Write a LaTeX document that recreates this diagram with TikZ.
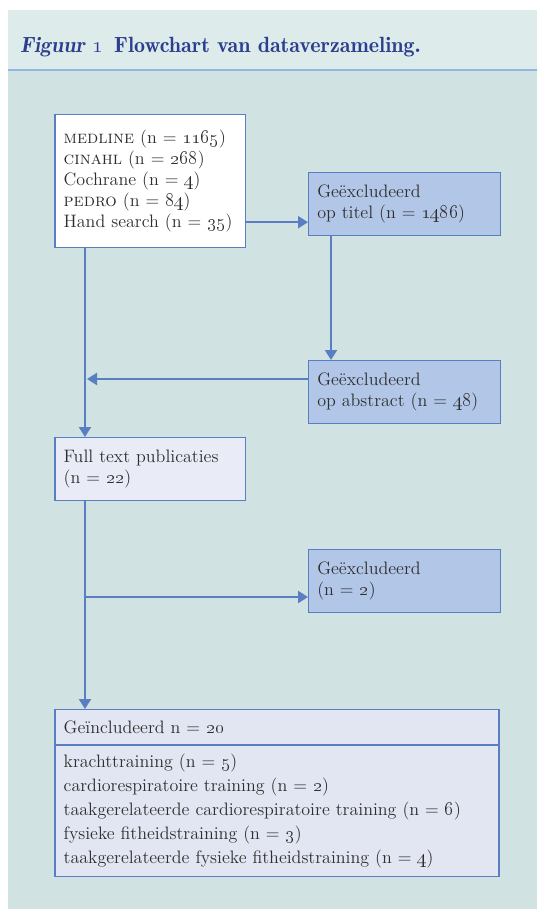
\documentclass[tikz,border=0pt]{standalone}
\usepackage{tikz}
\usepackage{xcolor}
\usetikzlibrary{arrows.meta}
\definecolor{panelbg}{HTML}{D0E3E2}
\definecolor{titlebg}{HTML}{DDEBEA}
\definecolor{titlerule}{HTML}{94B4E4}
\definecolor{titleblue}{HTML}{2C3E8E}
\definecolor{flowblue}{HTML}{5A7EC4}
\definecolor{exclfill}{HTML}{B2C7E8}
\definecolor{fullfill}{HTML}{E9ECF6}
\definecolor{inclfill}{HTML}{E2E6F2}
\definecolor{bodytext}{HTML}{2E2E2E}
\tikzstyle{source} = [rectangle, anchor=north west, text width=130pt, inner xsep=6.6pt, minimum height=99.5pt, align=left, draw=flowblue, line width=0.9pt, fill=white]
\tikzstyle{excluded} = [rectangle, anchor=north west, text width=131pt, inner xsep=6.5pt, minimum height=47.25pt, align=left, draw=flowblue, line width=0.9pt, fill=exclfill]
\tikzstyle{fulltext} = [rectangle, anchor=north west, text width=130pt, inner xsep=6.6pt, minimum height=47.25pt, align=left, draw=flowblue, line width=0.9pt, fill=fullfill]
\tikzstyle{included} = [rectangle, anchor=north west, text width=319.8pt, inner xsep=6.6pt, align=left, draw=flowblue, line width=0.9pt, fill=inclfill]
\tikzstyle{arrow} = [draw=flowblue, line width=1.7pt, -{Triangle[length=7.5pt,width=9pt]}]
\newcommand{\osn}[1]{\oldstylenums{#1}}

\begin{document}
\begin{tikzpicture}[x=0.75pt, y=-0.75pt, font=\fontsize{13.5}{15.75}\selectfont, text=bodytext]
\useasboundingbox (0,0) rectangle (537,909);
\fill [panelbg] (8,10) rectangle (537,909);
\fill [titlebg] (8,10) rectangle (537,70);
\draw [titlerule, line width=1pt] (8,70) -- (537,70);
\node (title) [anchor=base west, inner sep=0pt, text=titleblue, font=\fontsize{16.5}{20}\fontseries{b}\selectfont] at (20,53) {\textit{Figuur \osn{1}}\enspace Flowchart van dataverzameling.};

\node (src) [source] at (54.3,114) {\textsc{medline} (n = \osn{1165})\\ \textsc{cinahl} (n = \osn{268})\\ Cochrane (n = \osn{4})\\ \textsc{pedro} (n = \osn{84})\\ Hand search (n = \osn{35})};
\node (titel) [excluded] at (308,172) {Geëxcludeerd\\ op titel (n = \osn{1486})};
\node (abstract) [excluded] at (308,360) {Geëxcludeerd\\ op abstract (n = \osn{48})};
\node (full) [fulltext] at (54.3,437) {Full text publicaties\\ (n = \osn{22})};
\node (excl) [excluded] at (308,549) {Geëxcludeerd\\ (n = \osn{2})};
\node (inclhead) [included, minimum height=26.25pt] at (54.3,709) {Geïncludeerd n = \osn{20}};
\node (incllist) [included, minimum height=98.25pt, font=\fontsize{13.5}{18}\selectfont] at (inclhead.south west) {krachttraining (n = \osn{5})\\ cardiorespiratoire training (n = \osn{2})\\ taakgerelateerde cardiorespiratoire training (n = \osn{6})\\ fysieke fitheidstraining (n = \osn{3})\\ taakgerelateerde fysieke fitheidstraining (n = \osn{4})};

\coordinate (titelin) at ([yshift=10.5pt]titel.south west);
\coordinate (joinA) at (87,379);
\coordinate (joinB) at (85,597);

\draw [arrow] (titelin -| src.east) -- (titelin);
\draw [arrow] ([xshift=17.25pt]titel.south west) -- ([xshift=17.25pt]abstract.north west);
\draw [arrow] ([yshift=-14.25pt]abstract.north west) -- (joinA);
\draw [arrow] ([xshift=23pt]src.south west) -- ([xshift=23pt]full.north west);
\draw [arrow] ([xshift=23pt]full.south west) -- ([xshift=23pt]inclhead.north west);
\draw [arrow] (joinB) -- (joinB -| excl.west);
\end{tikzpicture}
\end{document}
